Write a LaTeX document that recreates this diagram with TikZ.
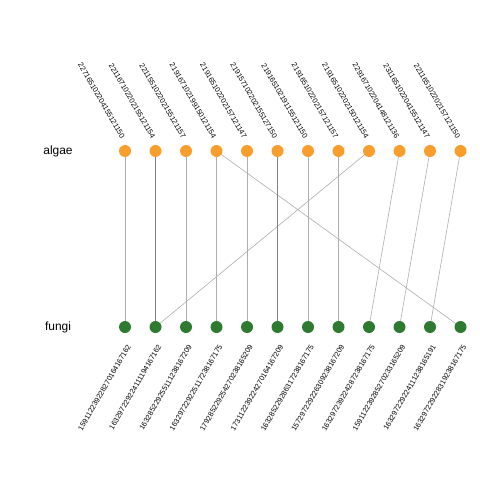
\documentclass[tikz,border=0pt]{standalone}
\usepackage{fontspec}
\setmainfont{Liberation Sans}
\usetikzlibrary{calc}
\definecolor{algaecol}{RGB}{248,158,45}
\definecolor{fungicol}{RGB}{45,122,48}
\definecolor{linkcol}{RGB}{175,175,175}
\definecolor{linkdark}{RGB}{130,130,130}
\begin{document}
\begin{tikzpicture}[x=1bp,y=-1bp,
  adot/.style={circle,fill=algaecol,minimum size=12bp,inner sep=0pt},
  fdot/.style={circle,fill=fungicol,minimum size=12bp,inner sep=0pt},
  toplab/.style={anchor=east,rotate=-60,inner sep=0pt,font=\fontsize{7.4}{8}\selectfont},
  botlab/.style={anchor=east,rotate=60,inner sep=0pt,font=\fontsize{7.4}{8}\selectfont},
  rowlab/.style={font=\fontsize{12}{14}\selectfont},
  link/.style={draw=linkcol,line width=0.6bp},
  linkd/.style={draw=linkdark,line width=0.8bp}]
\useasboundingbox (0,0) rectangle (480,480);
\fill[white] (0,0) rectangle (480,480);

\node[rowlab] (algae) at (58,151) {algae};
\node[rowlab] (fungi) at (58,327) {fungi};

% dot positions
\foreach \i/\x in {1/125,2/155.5,3/186,4/216.5,5/247,6/277.5,7/308,8/338.5,9/369,10/399.5,11/430,12/460.5}{
  \coordinate (tp\i) at (\x,151);
  \coordinate (bp\i) at (\x,327);
}

% links between the two rows
\foreach \a/\b in {1/1,3/3,4/4,4/12,5/5,7/7,8/8,9/2,10/9,11/10,12/11}
  \path[link] (tp\a) -- (bp\b);
\foreach \a/\b in {2/2,6/6}
  \path[linkd] (tp\a) -- (bp\b);

% top row
\foreach \i in {1,...,12}
  \node[adot] (t\i) at (tp\i) {};
% bottom row
\foreach \i in {1,...,12}
  \node[fdot] (b\i) at (bp\i) {};

% top labels
\foreach \i/\t in {
  1/227165102204155121150,
  2/221167102202155121154,
  3/221155102202155121157,
  4/219167102199150121154,
  5/219165102202157121147,
  6/219157102202155127150,
  7/219165102191155121150,
  8/219165102202157121157,
  9/219165102202150121154,
  10/229167102204148121136,
  11/231165102204155121147,
  12/221165102202157121150}
  \node[toplab] (tl\i) at ($(tp\i)+(-2,-13)$) {\t};

% bottom labels
\foreach \i/\t in {
  1/159112239228270164167162,
  2/163297229224111194167162,
  3/163285229255111238167209,
  4/163297229225117238167175,
  5/179285229254270238165209,
  6/173112239224270164167209,
  7/163285229286317238167175,
  8/157297229226309238167209,
  9/163297239224287238167175,
  10/159112239285270233165209,
  11/163297229224111238165191,
  12/163297229228319238167175}
  \node[botlab] (bl\i) at ($(bp\i)+(4,18)$) {\t};
\end{tikzpicture}
\end{document}
